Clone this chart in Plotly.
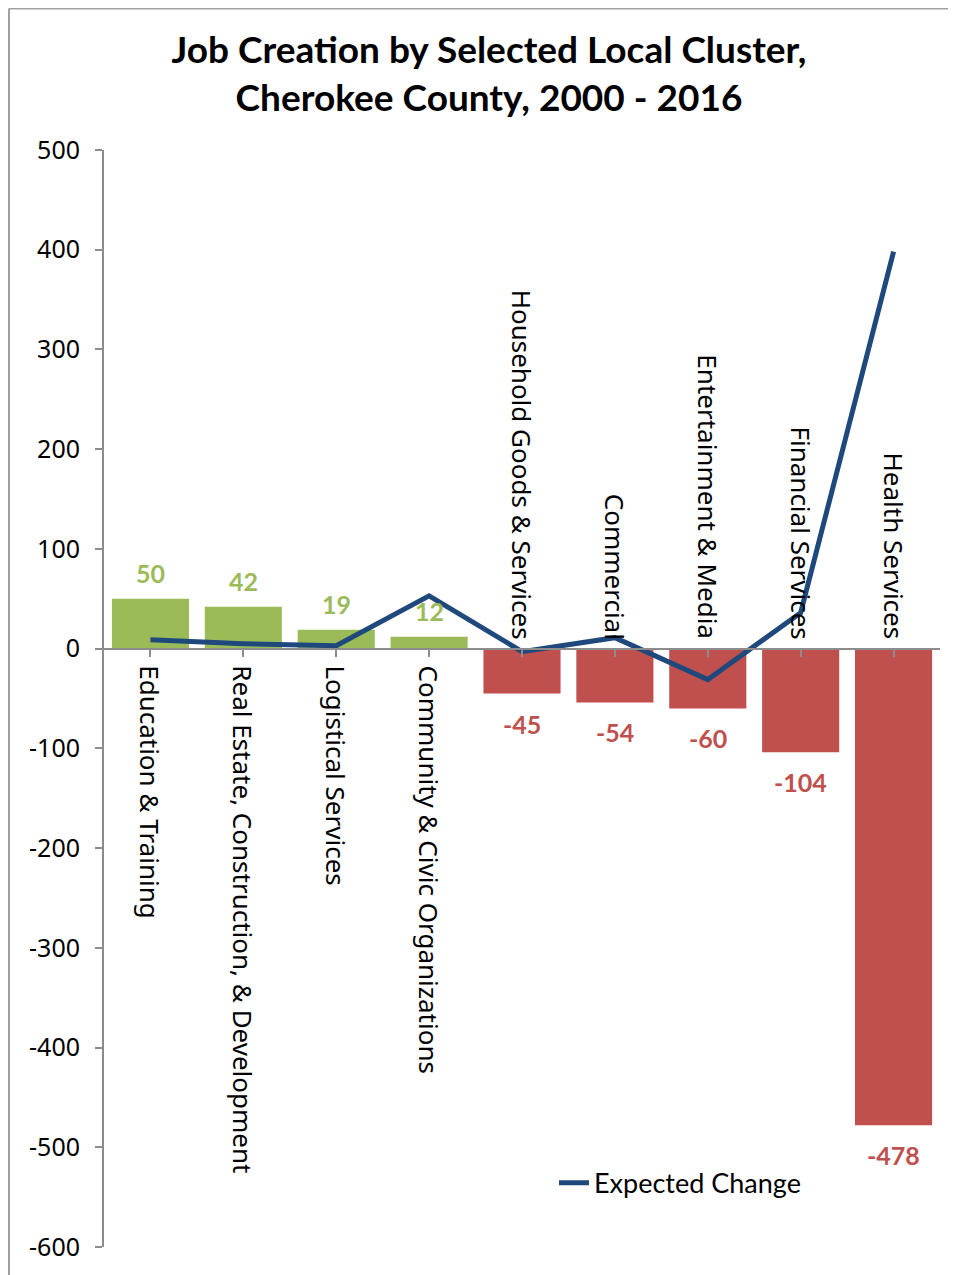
import plotly.graph_objects as go

categories = ["Education & Training", "Real Estate, Construction, & Development",
              "Logistical Services", "Community & Civic Organizations",
              "Household Goods & Services", "Commercial", "Entertainment & Media",
              "Financial Services", "Health Services"]
job_change = [50, 42, 19, 12, -45, -54, -60, -104, -478]
expected_change = [9, 5, 3, 53, -3, 11, -31, 36, 398]
y_ticks = [500, 400, 300, 200, 100, 0, -100, -200, -300, -400, -500, -600]

GREEN = "#9BBB59"
RED = "#C0504D"
NAVY = "#1F497D"
GRAY = "#8C8C8C"
HUM = "Lato, Noto Sans"
SANS = "Noto Sans, Open Sans, DejaVu Sans"

# page is offset by the 8px body margin
OFF = 8
W, H = 956 - OFF, 1275 - OFF

colors = [GREEN if v >= 0 else RED for v in job_change]
x_idx = list(range(len(categories)))

fig = go.Figure()
fig.add_trace(go.Bar(x=x_idx, y=job_change, marker=dict(color=colors, line=dict(width=0)),
                     width=0.83, showlegend=False, hoverinfo="skip"))
fig.add_trace(go.Scatter(x=x_idx, y=expected_change, mode="lines", name="Expected Change",
                         line=dict(color=NAVY, width=5)))

annotations = []
for i, (c, v) in enumerate(zip(categories, job_change)):
    annotations.append(dict(x=i, y=v, xref="x", yref="y", text=f"<b>{v}</b>", showarrow=False,
                            font=dict(family=HUM, size=25, color=GREEN if v >= 0 else RED),
                            yshift=26 if v >= 0 else -30, yanchor="middle"))
    if v >= 0:
        annotations.append(dict(x=i, y=0, xref="x", yref="y", text=c, showarrow=False, textangle=90,
                                font=dict(family=SANS, size=26, color="black"),
                                yanchor="top", yshift=-15))
    else:
        annotations.append(dict(x=i, y=0, xref="x", yref="y", text=c, showarrow=False, textangle=90,
                                font=dict(family=SANS, size=26, color="black"),
                                yanchor="bottom", yshift=7))

fig.update_layout(
    width=W, height=H,
    margin=dict(l=104 - OFF, r=16, t=150 - OFF, b=20),
    paper_bgcolor="white", plot_bgcolor="white",
    title=dict(text="<b>Job Creation by Selected Local Cluster,<br>Cherokee County, 2000 - 2016</b>",
               x=(489 - OFF) / W, xanchor="center", xref="container",
               y=1 - (63 - OFF) / H, yanchor="middle", yref="container",
               font=dict(family=HUM, size=37, color="black")),
    annotations=annotations,
    xaxis=dict(range=[-0.5, 8.5], showticklabels=False, showgrid=False, zeroline=False,
               showline=True, linecolor=GRAY, linewidth=2, ticks="outside", tickson="boundaries",
               ticklen=7, tickcolor=GRAY, tickwidth=2, tickvals=x_idx,
               anchor="free", position=600 / 1100),
    yaxis=dict(range=[-600, 500], tickvals=y_ticks, ticktext=[str(t) for t in y_ticks],
               showgrid=False, zeroline=False, showline=True, linecolor=GRAY, linewidth=2,
               ticks="outside", ticklen=7, tickcolor=GRAY, tickwidth=2,
               tickfont=dict(family=SANS, size=25, color="black"), ticklabelstandoff=10),
    legend=dict(x=(554 - 104) / 836, y=(1251 - 1187) / 1101, xanchor="left", yanchor="middle",
                bgcolor="rgba(0,0,0,0)", font=dict(family=HUM, size=27, color="black")),
    shapes=[
        dict(type="line", xref="paper", yref="paper", x0=(9 - 104) / 836, x1=(9 - 104) / 836,
             y0=(1251 - 8) / 1101, y1=-0.1, line=dict(color="#A0A0A0", width=2)),
        dict(type="line", xref="paper", yref="paper", x0=(9 - 104) / 836, x1=1.1,
             y0=(1251 - 8) / 1101, y1=(1251 - 8) / 1101, line=dict(color="#A0A0A0", width=2)),
    ],
)

fig.write_html("out.html")
